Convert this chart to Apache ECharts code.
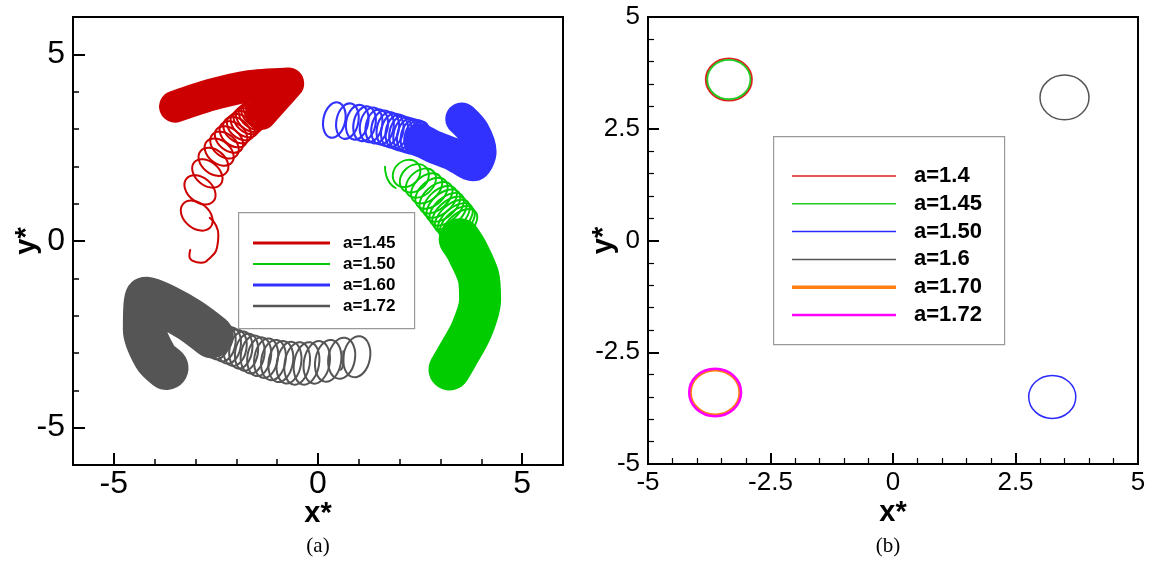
<!DOCTYPE html>
<html><head><meta charset="utf-8">
<script src="https://cdn.jsdelivr.net/npm/echarts@6/dist/echarts.min.js"></script>
<style>html,body{margin:0;padding:0;background:#fff}#c{width:1162px;height:562px}</style>
</head><body><div id="c"></div>
<script>
// ---------- data: panel (a) ----------
const leftTickValues = [-5, 0, 5];
const leftLegendNames = ['a=1.45', 'a=1.50', 'a=1.60', 'a=1.72'];

// loops: [centerX, centerY, semiAxisAlongDrift, semiAxisAcrossDrift]
const redLoops = [
  [-2.97, 0.68, 0.32, 0.46], [-2.89, 1.37, 0.31, 0.45], [-2.71, 1.81, 0.30, 0.44],
  [-2.56, 2.12, 0.30, 0.43], [-2.42, 2.38, 0.29, 0.42], [-2.29, 2.57, 0.29, 0.41],
  [-2.18, 2.72, 0.28, 0.41], [-2.07, 2.86, 0.28, 0.40], [-1.98, 2.97, 0.28, 0.40],
  [-1.89, 3.05, 0.28, 0.40], [-1.80, 3.13, 0.28, 0.40], [-1.73, 3.21, 0.28, 0.40],
  [-1.67, 3.27, 0.28, 0.40], [-1.60, 3.33, 0.28, 0.40], [-1.54, 3.39, 0.28, 0.40],
  [-1.49, 3.46, 0.28, 0.40], [-1.43, 3.51, 0.28, 0.40], [-1.38, 3.56, 0.28, 0.40]
];
const redTail = [[-3.13, -0.24], [-3.15, -0.40], [-3.05, -0.54], [-2.87, -0.58], [-2.65, -0.46],
  [-2.47, -0.16], [-2.44, 0.16], [-2.52, 0.46], [-2.65, 0.62]];
const redBand = [[-3.50, 3.60], [-2.64, 3.91], [-1.67, 4.15], [-0.73, 4.22], [-1.09, 3.78], [-1.40, 3.40]];

const greenLoops = [
  [2.17, 1.81, 0.32, 0.38], [2.36, 1.68, 0.32, 0.41], [2.52, 1.55, 0.31, 0.44],
  [2.66, 1.41, 0.31, 0.46], [2.78, 1.28, 0.31, 0.48], [2.89, 1.16, 0.30, 0.50],
  [2.99, 1.05, 0.30, 0.51], [3.07, 0.95, 0.30, 0.52], [3.15, 0.85, 0.30, 0.53],
  [3.22, 0.75, 0.30, 0.53], [3.29, 0.66, 0.30, 0.54], [3.36, 0.57, 0.30, 0.54],
  [3.41, 0.49, 0.30, 0.54], [3.47, 0.41, 0.30, 0.54]
];
const greenTail = [[1.64, 1.99], [1.67, 1.76], [1.76, 1.55], [1.90, 1.42]];
const greenBand = [[3.47, 0.05], [3.64, -0.24], [3.93, -0.96], [3.97, -1.58], [3.76, -2.38], [3.40, -3.10], [3.22, -3.44]];

const blueLoops = [
  [0.40, 3.24, 0.28, 0.46], [0.72, 3.21, 0.28, 0.46], [0.96, 3.18, 0.28, 0.45],
  [1.14, 3.14, 0.28, 0.45], [1.30, 3.11, 0.28, 0.45], [1.44, 3.07, 0.28, 0.44],
  [1.58, 3.04, 0.28, 0.44], [1.71, 3.00, 0.28, 0.44], [1.82, 2.96, 0.28, 0.44],
  [1.93, 2.93, 0.28, 0.44], [2.02, 2.89, 0.28, 0.44], [2.12, 2.86, 0.28, 0.44],
  [2.21, 2.83, 0.28, 0.44], [2.30, 2.80, 0.28, 0.44], [2.39, 2.78, 0.28, 0.44],
  [2.47, 2.75, 0.28, 0.44]
];
const blueBand = [[2.50, 2.71], [2.82, 2.53], [3.31, 2.32], [3.80, 2.04], [3.97, 2.39], [3.80, 2.93], [3.52, 3.27]];

const grayLoops = [
  [0.95, -3.10, 0.34, 0.53], [0.58, -3.14, 0.34, 0.53], [0.25, -3.21, 0.33, 0.54],
  [-0.03, -3.25, 0.33, 0.55], [-0.28, -3.28, 0.32, 0.55], [-0.51, -3.28, 0.32, 0.55],
  [-0.71, -3.26, 0.31, 0.54], [-0.91, -3.23, 0.31, 0.53], [-1.09, -3.19, 0.31, 0.52],
  [-1.27, -3.14, 0.30, 0.51], [-1.44, -3.10, 0.30, 0.50], [-1.60, -3.04, 0.30, 0.49],
  [-1.75, -2.98, 0.29, 0.48], [-1.89, -2.92, 0.29, 0.48], [-2.03, -2.86, 0.29, 0.47],
  [-2.17, -2.80, 0.29, 0.47], [-2.30, -2.74, 0.29, 0.47], [-2.44, -2.68, 0.29, 0.47],
  [-2.56, -2.63, 0.29, 0.47]
];
const grayTail = [[0.55, -3.45], [0.60, -3.38], [0.62, -3.22], [0.62, -2.95]];
const grayBand = [[-2.60, -2.55], [-3.13, -2.12], [-3.71, -1.76], [-4.19, -1.55], [-4.24, -2.38], [-3.99, -3.10], [-3.71, -3.40]];

// ---------- data: panel (b) ----------
const rightLegendNames = ['a=1.4', 'a=1.45', 'a=1.50', 'a=1.6', 'a=1.70', 'a=1.72'];
// circles: [centerX, centerY, radius]
const circleA140 = [[-3.35, 3.60, 0.47]];
const circleA145 = [[-3.35, 3.60, 0.44]];
const circleA150 = [[3.25, -3.50, 0.48]];
const circleA160 = [[3.50, 3.20, 0.50]];
const circleA170 = [[-3.63, -3.40, 0.50]];
const circleA172 = [[-3.63, -3.40, 0.53]];

// ---------- styles ----------
const leftColors = ['#cc0000', '#00cc00', '#3232ff', '#555555'];
const leftLegendWidths = [3, 2, 3, 2.5];
const rightColors = ['#dd2020', '#22cc22', '#2a2aff', '#555555', '#ff8010', '#ff00ff'];
const rightWidths = [2, 1.8, 1.5, 1.5, 2.5, 2.5];
const rightLegendWidths = [1.5, 1.5, 1.5, 1.5, 3.5, 2.5];
const FONT = 'Liberation Sans, Arial, sans-serif';

function loopRender(angleDeg, lw) {
  return function (params, api) {
    const c = api.coord([api.value(0), api.value(1)]);
    const s = api.size([1, 1]);
    const k = (s[0] + s[1]) / 2;
    return {
      type: 'ellipse',
      x: c[0], y: c[1],
      rotation: angleDeg * Math.PI / 180,
      shape: { cx: 0, cy: 0, rx: api.value(2) * k, ry: api.value(3) * k },
      style: { fill: 'none', stroke: api.visual('color'), lineWidth: lw }
    };
  };
}
function circleRender(lw) {
  return function (params, api) {
    const c = api.coord([api.value(0), api.value(1)]);
    const s = api.size([api.value(2), api.value(2)]);
    return {
      type: 'ellipse',
      shape: { cx: c[0], cy: c[1], rx: s[0], ry: s[1] },
      style: { fill: 'none', stroke: api.visual('color'), lineWidth: lw }
    };
  };
}
function loopSeries(name, data, color, angle, lw) {
  return { type: 'custom', name, xAxisIndex: 0, yAxisIndex: 0, data, encode: { x: 0, y: 1 },
    itemStyle: { color }, renderItem: loopRender(angle, lw), silent: true, animation: false };
}
function lineSeries(name, data, color, width, smooth) {
  return { type: 'line', name, xAxisIndex: 0, yAxisIndex: 0, data, symbol: 'none', showSymbol: false,
    smooth: smooth, silent: true, animation: false,
    lineStyle: { color, width, cap: 'round', join: 'round' } };
}
function circleSeries(name, data, color, lw) {
  return { type: 'custom', name, xAxisIndex: 2, yAxisIndex: 2, data, encode: { x: 0, y: 1 },
    itemStyle: { color }, renderItem: circleRender(lw), silent: true, animation: false };
}

const series = [
  loopSeries('a=1.50', greenLoops, leftColors[1], -48, 1.9),
  lineSeries('a=1.50', greenTail, leftColors[1], 1.9, true),
  lineSeries('a=1.50', greenBand, leftColors[1], 42, 0.3),
  loopSeries('a=1.60', blueLoops, leftColors[2], -12, 2.1),
  lineSeries('a=1.60', blueBand, leftColors[2], 33, 0.3),
  loopSeries('a=1.45', redLoops, leftColors[0], 50, 2),
  lineSeries('a=1.45', redTail, leftColors[0], 2, true),
  lineSeries('a=1.45', redBand, leftColors[0], 32, 0.2),
  loopSeries('a=1.72', grayLoops, leftColors[3], -10, 2),
  lineSeries('a=1.72', grayTail, leftColors[3], 2, true),
  lineSeries('a=1.72', grayBand, leftColors[3], 44, 0.3),
  circleSeries('a=1.4', circleA140, rightColors[0], rightWidths[0]),
  circleSeries('a=1.45', circleA145, rightColors[1], rightWidths[1]),
  circleSeries('a=1.50', circleA150, rightColors[2], rightWidths[2]),
  circleSeries('a=1.6', circleA160, rightColors[3], rightWidths[3]),
  circleSeries('a=1.70', circleA170, rightColors[4], rightWidths[4]),
  circleSeries('a=1.72', circleA172, rightColors[5], rightWidths[5])
];

// ---------- legends & captions (graphic) ----------
const graphic = [];
graphic.push({ type: 'rect', left: 238, top: 212, z: 100,
  shape: { width: 176, height: 116 }, style: { fill: '#fff', stroke: '#999', lineWidth: 1.2 } });
leftLegendNames.forEach((n, i) => {
  const y = 243 + i * 21;
  graphic.push({ type: 'line', z: 101, shape: { x1: 253, y1: y, x2: 330, y2: y },
    style: { stroke: leftColors[i], lineWidth: leftLegendWidths[i] } });
  graphic.push({ type: 'text', z: 101, x: 343, y: y,
    style: { text: n, fill: '#000', font: 'bold 17px ' + FONT, textVerticalAlign: 'middle', verticalAlign: 'middle' } });
});
graphic.push({ type: 'rect', left: 773, top: 136, z: 100,
  shape: { width: 231, height: 208 }, style: { fill: '#fff', stroke: '#999', lineWidth: 1.2 } });
rightLegendNames.forEach((n, i) => {
  const y = 176 + i * 27.8;
  graphic.push({ type: 'line', z: 101, shape: { x1: 792, y1: y, x2: 896, y2: y },
    style: { stroke: rightColors[i], lineWidth: rightLegendWidths[i] } });
  graphic.push({ type: 'text', z: 101, x: 914, y: y,
    style: { text: n, fill: '#000', font: 'bold 22px ' + FONT, textVerticalAlign: 'middle', verticalAlign: 'middle' } });
});
graphic.push({ type: 'text', x: 318, y: 546, z: 100,
  style: { text: '(a)', fill: '#000', font: '21px Liberation Serif, Times New Roman, serif', align: 'center', verticalAlign: 'middle', textAlign: 'center', textVerticalAlign: 'middle' } });
graphic.push({ type: 'text', x: 888, y: 546, z: 100,
  style: { text: '(b)', fill: '#000', font: '21px Liberation Serif, Times New Roman, serif', align: 'center', verticalAlign: 'middle', textAlign: 'center', textVerticalAlign: 'middle' } });

// ---------- axes ----------
const blackLine = { show: true, onZero: false, lineStyle: { color: '#000', width: 2 } };
function leftAxisPair(isX) {
  const base = { gridIndex: 0, type: 'value', min: -6, max: 6, interval: 1, splitLine: { show: false },
    position: isX ? 'bottom' : 'left' };
  const a1 = Object.assign({}, base, {
    axisLine: blackLine,
    axisTick: { show: true, inside: true, length: 6, lineStyle: { color: '#000', width: 1.5 } },
    axisLabel: { show: false }
  });
  const a2 = Object.assign({}, base, {
    axisLine: { show: false, onZero: false },
    axisTick: { show: true, inside: true, length: 12, customValues: leftTickValues, lineStyle: { color: '#000', width: 2 } },
    axisLabel: { show: true, customValues: leftTickValues, color: '#000', fontSize: 32, fontFamily: FONT,
      margin: isX ? 3 : 8, showMinLabel: true, showMaxLabel: true },
    name: isX ? 'x*' : 'y*', nameLocation: 'middle', nameGap: isX ? 34 : 32, nameMoveOverlap: false,
    nameTextStyle: { color: '#000', fontSize: 29, fontWeight: 'bold', fontFamily: FONT }
  });
  return [a1, a2];
}
function rightAxis(isX) {
  return { gridIndex: 1, type: 'value', min: -5, max: 5, interval: 2.5, splitLine: { show: false },
    position: isX ? 'bottom' : 'left',
    axisLine: blackLine,
    axisTick: { show: true, inside: true, length: 11, lineStyle: { color: '#000', width: 2 } },
    minorTick: { show: true, splitNumber: 5, length: 6, lineStyle: { color: '#000', width: 1.2 } },
    minorSplitLine: { show: false },
    axisLabel: { color: '#000', fontSize: 26, fontFamily: FONT, margin: isX ? 6 : 8, showMinLabel: true, showMaxLabel: true },
    name: isX ? 'x*' : 'y*', nameLocation: 'middle', nameGap: isX ? 34 : 30, nameMoveOverlap: false,
    nameTextStyle: { color: '#000', fontSize: 29, fontWeight: 'bold', fontFamily: FONT }
  };
}

const option = {
  animation: false,
  backgroundColor: '#fff',
  grid: [
    { left: 73, top: 17, width: 490, height: 448, show: true, borderColor: '#000', borderWidth: 2,
      containLabel: false, outerBoundsMode: 'none' },
    { left: 648, top: 17, width: 490, height: 447, show: true, borderColor: '#000', borderWidth: 2,
      containLabel: false, outerBoundsMode: 'none' }
  ],
  xAxis: [...leftAxisPair(true), rightAxis(true)],
  yAxis: [...leftAxisPair(false), rightAxis(false)],
  series,
  graphic
};
const chart = echarts.init(document.getElementById('c'));
chart.setOption(option);
</script></body></html>
